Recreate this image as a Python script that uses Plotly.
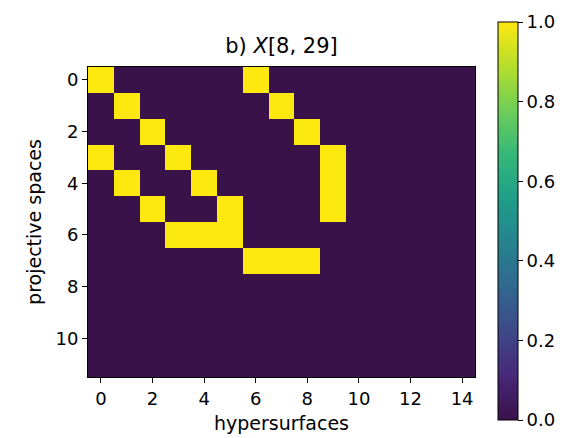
import plotly.graph_objects as go

n_rows = 12
n_cols = 15
# (row, col) positions of cells equal to 1
ones = [(0, 0), (0, 6), (1, 1), (1, 7), (2, 2), (2, 8),
        (3, 0), (3, 3), (3, 9), (4, 1), (4, 4), (4, 9),
        (5, 2), (5, 5), (5, 9), (6, 3), (6, 4), (6, 5),
        (7, 6), (7, 7), (7, 8)]

z = [[0] * n_cols for _ in range(n_rows)]
for r, c in ones:
    z[r][c] = 1

x_ticks = [0, 2, 4, 6, 8, 10, 12, 14]
y_ticks = [0, 2, 4, 6, 8, 10]
cb_ticks = [0, 0.2, 0.4, 0.6, 0.8, 1.0]
cb_labels = ["0.0", "0.2", "0.4", "0.6", "0.8", "1.0"]

colorscale = [
    [0.0, "#39124a"], [0.1111, "#482878"], [0.2222, "#3e4989"],
    [0.3333, "#31688e"], [0.4444, "#26828e"], [0.5556, "#1f9e89"],
    [0.6667, "#35b779"], [0.7778, "#6ece58"], [0.8889, "#b5de2b"],
    [1.0, "#fde80f"],
]

font = dict(family="DejaVu Sans", size=18, color="black")
label_font = dict(family="DejaVu Sans", size=19, color="black")

fig = go.Figure(go.Heatmap(
    z=z, x=list(range(n_cols)), y=list(range(n_rows)),
    colorscale=colorscale, zmin=0, zmax=1,
    colorbar=dict(
        x=1.0336, xanchor="left", xref="paper", xpad=10,
        y=0.503, yanchor="middle",
        thickness=20, len=418, lenmode="pixels",
        outlinewidth=1, outlinecolor="black",
        tickvals=cb_ticks, ticktext=cb_labels,
        ticks="outside", ticklen=5, tickcolor="black",
        tickfont=font,
    ),
    hoverinfo="skip",
))

axis_common = dict(
    showgrid=False, zeroline=False, showline=True, linecolor="black",
    linewidth=1, mirror=True, ticks="outside", ticklen=5,
    tickcolor="black", tickfont=font,
)

# page body has an 8px margin, so the figure is drawn 8px smaller and offset
fig.update_layout(
    width=559, height=430,
    margin=dict(l=80, r=92, t=59, b=61, autoexpand=False),
    paper_bgcolor="white", plot_bgcolor="white",
    font=font,
    title=dict(text="b) <i>X</i>[8, 29]", x=0.5, xref="paper", xanchor="center",
               y=1 - 38 / 430, yref="container", yanchor="middle",
               font=dict(family="DejaVu Sans", size=21, color="black")),
    xaxis=dict(range=[-0.5, 14.5], tickvals=x_ticks,
               title=dict(text="hypersurfaces", standoff=9, font=label_font),
               **axis_common),
    yaxis=dict(range=[11.5, -0.5], tickvals=y_ticks,
               title=dict(text="projective spaces", standoff=8, font=label_font),
               **axis_common),
)

fig.write_html("out.html")
